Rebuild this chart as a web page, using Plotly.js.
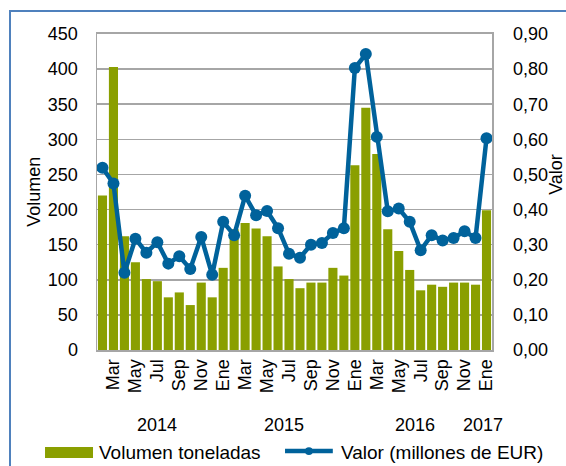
<!DOCTYPE html>
<html>
<head>
<meta charset="utf-8">
<script src="https://cdn.plot.ly/plotly-3.0.1.min.js"></script>
<style>
  body { margin: 0; background: #fff; overflow: hidden; }
  #frame { position: absolute; left: 9px; top: 10px; width: 600px; height: 500px;
           border-left: 2.5px solid #4f81bd; border-top: 2.5px solid #4f81bd; pointer-events: none; }
  #plot { position: absolute; left: 0; top: 0; width: 566px; height: 466px; }
</style>
</head>
<body>
<div id="plot"></div>
<div id="frame"></div>
<script>
// months Feb 2014 .. Ene 2017
var monthNames = ['Ene','Feb','Mar','Abr','May','Jun','Jul','Ago','Sep','Oct','Nov','Dic'];
var years = ['2014','2015','2016','2017'];

var volumen = [220, 403, 162, 125, 101, 98, 75, 82, 64, 96, 75, 117,
               172, 181, 173, 162, 119, 101, 88, 96, 96, 117, 106,
               263, 345, 279, 172, 141, 114, 85, 93, 90, 96, 96, 93, 199];

var valor = [0.519, 0.474, 0.220, 0.317, 0.277, 0.307, 0.246, 0.267, 0.231, 0.322, 0.214, 0.365,
             0.327, 0.439, 0.384, 0.396, 0.347, 0.274, 0.263, 0.300, 0.305, 0.333, 0.347,
             0.803, 0.843, 0.607, 0.395, 0.403, 0.365, 0.284, 0.327, 0.312, 0.319, 0.338, 0.319, 0.603];

var barName = 'Volumen toneladas';
var lineName = 'Valor (millones de EUR)';
var barColor = '#8a9f00';
var lineColor = '#00629b';

// build category keys and labels
var cats = [], catYear = [], catMonth = [];
var y = 2014, m = 1;
for (var i = 0; i < volumen.length; i++) {
    cats.push(y + '-' + (m + 1));
    catYear.push(String(y));
    catMonth.push(monthNames[m]);
    m++;
    if (m == 12) { m = 0; y++; }
}

var tickvals = [], ticktext = [];
for (var i = 1; i < cats.length; i += 2) {
    tickvals.push(cats[i]);
    ticktext.push(catMonth[i]);
}

var font = { family: 'Liberation Sans, Arial, sans-serif', size: 18, color: '#000' };
var legFont = { family: 'Liberation Sans, Arial, sans-serif', size: 19, color: '#000' };

var annotations = years.map(function(yr) {
    var idx = [];
    catYear.forEach(function(c, i) { if (c == yr) idx.push(i); });
    var mid = (idx[0] + idx[idx.length - 1]) / 2;
    if (yr == '2017') mid = mid - 0.3;
    return { x: mid, xref: 'x', y: -0.237, yref: 'paper', text: yr, showarrow: false,
             xanchor: 'center', yanchor: 'middle', font: font };
});
annotations.push({ x: -0.16, xref: 'paper', y: 0.5, yref: 'paper', text: 'Volumen', textangle: -90,
                   showarrow: false, xanchor: 'center', yanchor: 'middle', font: font });
annotations.push({ x: 1.16, xref: 'paper', y: 0.555, yref: 'paper', text: 'Valor', textangle: -90,
                   showarrow: false, xanchor: 'center', yanchor: 'middle', font: font });

// legend drawn by hand so the swatches have the reference's size
annotations.push({ x: 0.0, xref: 'paper', y: -0.323, yref: 'paper', text: barName,
                   showarrow: false, xanchor: 'left', yanchor: 'middle', font: legFont });
annotations.push({ x: 0.612, xref: 'paper', y: -0.323, yref: 'paper', text: lineName,
                   showarrow: false, xanchor: 'left', yanchor: 'middle', font: legFont });

var shapes = [
    { type: 'rect', xref: 'paper', yref: 'paper', x0: -0.1316, x1: -0.0101, y0: -0.342, y1: -0.307,
      fillcolor: barColor, line: { width: 0 } },
    { type: 'line', xref: 'paper', yref: 'paper', x0: 0.476, x1: 0.597, y0: -0.320, y1: -0.320,
      line: { color: lineColor, width: 4.5 } },
    { type: 'circle', xref: 'paper', yref: 'paper', x0: 0.5265, x1: 0.5465, y0: -0.3075, y1: -0.3325,
      fillcolor: lineColor, line: { width: 0 } }
];

var barTrace = {
    x: cats,
    y: volumen,
    type: 'bar',
    name: barName,
    marker: { color: barColor }
};

var lineTrace = {
    x: cats,
    y: valor,
    yaxis: 'y2',
    type: 'scatter',
    mode: 'lines+markers',
    name: lineName,
    line: { color: lineColor, width: 4.5 },
    marker: { color: lineColor, size: 12 }
};

var layout = {
    width: 566,
    height: 466,
    margin: { l: 97, r: 74, t: 34, b: 116, autoexpand: false },
    paper_bgcolor: '#fff',
    plot_bgcolor: '#fff',
    font: font,
    separators: ',.',
    bargap: 0.17,
    showlegend: false,
    xaxis: {
        type: 'category',
        range: [-0.5, cats.length - 0.5],
        tickvals: tickvals,
        ticktext: ticktext,
        tickangle: -90,
        showgrid: false,
        showline: true,
        linecolor: '#a6a6a6',
        linewidth: 2,
        mirror: true,
        ticks: '',
        ticklabelstandoff: 0,
        automargin: false,
        fixedrange: true
    },
    yaxis: {
        range: [0, 450],
        dtick: 50,
        showgrid: true,
        gridcolor: '#a6a6a6',
        gridwidth: 1.5,
        showline: true,
        linecolor: '#a6a6a6',
        linewidth: 1.5,
        ticks: '',
        ticklabelstandoff: 14,
        automargin: false,
        zeroline: false
    },
    yaxis2: {
        overlaying: 'y',
        side: 'right',
        range: [0, 0.9],
        dtick: 0.1,
        tickformat: '.2f',
        showgrid: false,
        showline: true,
        linecolor: '#a6a6a6',
        linewidth: 1.5,
        ticks: '',
        ticklabelstandoff: 16,
        automargin: false,
        zeroline: false
    },
    shapes: shapes,
    annotations: annotations
};

Plotly.newPlot('plot', [barTrace, lineTrace], layout, { staticPlot: true });
</script>
</body>
</html>
